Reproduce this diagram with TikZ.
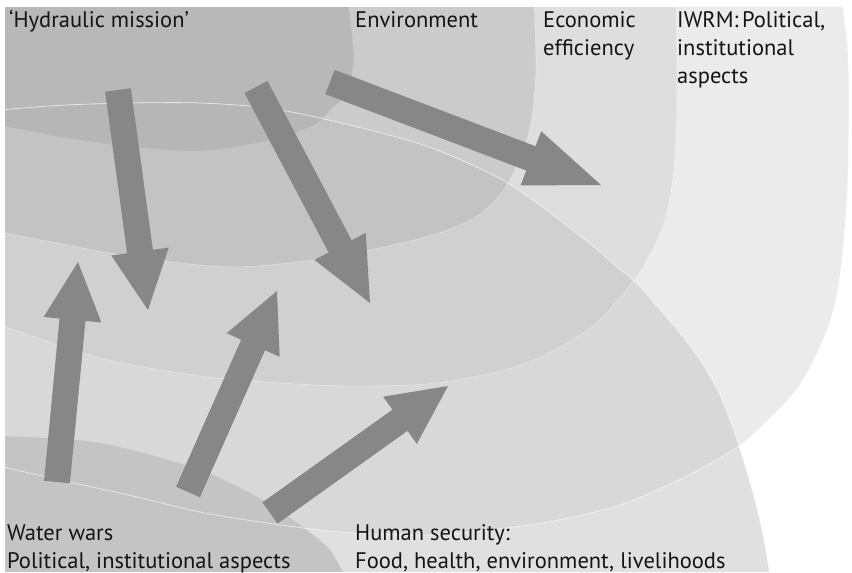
\documentclass[tikz,border=0pt]{standalone}
\usepackage{fontspec}
\setmainfont{PT Sans}
\usetikzlibrary{calc}

% fills of the nested fields and of their overlaps with the human-security field
\definecolor{cIwrm}{gray}{0.922}
\definecolor{cEcon}{gray}{0.871}
\definecolor{cEnv}{gray}{0.796}
\definecolor{cHyd}{gray}{0.722}
\definecolor{cHs}{gray}{0.878}
\definecolor{cIwrmHs}{gray}{0.847}
\definecolor{cEconHs}{gray}{0.816}
\definecolor{cEnvHs}{gray}{0.765}
\definecolor{cHydHs}{gray}{0.714}
\definecolor{cWw}{gray}{0.769}
\definecolor{cArrow}{gray}{0.529}

% field borders (pixel-like units, y pointing down)
\newcommand{\iwrmcurve}{plot[smooth] coordinates {(840,-10) (847,40) (849,100) (847,200) (839,283) (826,333) (800,385) (768,420) (739,446) (693,473) (626,503) (559,520) (490,530) (426,535) (340,532) (267,523) (200,512) (133,496) (60,480) (0,466) (-20,460)}}
\newcommand{\econcurve}{plot[smooth] coordinates {(676,-10) (677,100) (674,170) (665,220) (650,255) (629,287) (593,326) (543,356) (493,373) (426,384) (350,386) (280,383) (200,376) (100,358) (0,325) (-20,316)}}
\newcommand{\envcurve}{plot[smooth] coordinates {(534,-10) (536,67) (533,110) (526,143) (506,187) (476,217) (426,237) (333,257) (233,267) (133,257) (67,245) (0,232) (-20,226)}}
\newcommand{\hydcurve}{plot[smooth] coordinates {(347,-10) (353,47) (353,67) (347,93) (330,110) (317,123) (283,137) (233,147) (193,151) (133,147) (67,138) (0,125) (-20,120)}}
\newcommand{\hscurve}{plot[smooth] coordinates {(-20,113) (0,110) (67,105) (133,103) (200,103) (267,108) (333,121) (426,146) (506,182) (575,232) (615,265) (643,290) (693,350) (720,395) (739,446) (755,500) (765,545) (772,590)}}
\newcommand{\wwcurve}{plot[smooth] coordinates {(-20,434) (5,436) (100,443) (200,470) (263,500) (300,525) (330,550) (352,590)}}

% broad arrow: tail, tip, head length
\newcommand{\fatarrow}[3]{%
  \coordinate (hb) at ($(#2)!#3!(#1)$);
  \fill[arrowfill] ($(#1)!13pt!90:(#2)$) -- ($(hb)!13pt!-90:(#1)$) -- ($(hb)!29pt!-90:(#1)$) -- (#2)
     -- ($(hb)!29pt!90:(#1)$) -- ($(hb)!13pt!90:(#1)$) -- ($(#1)!13pt!-90:(#2)$) -- cycle;
}

\begin{document}
\begin{tikzpicture}[x=1pt,y=-1pt,
  arrowfill/.style={fill=cArrow},
  rim/.style={draw=white,line width=0.8pt,opacity=0.6},
  lbl/.style={font=\fontsize{22.5}{28}\selectfont,inner sep=0pt,anchor=base west,text=black!92}]
\useasboundingbox (0,0) rectangle (852,573);

\begin{scope}
  \clip (5,7) rectangle (852,571);
  % nested fields, outermost first
  \fill[cIwrm] \iwrmcurve -- (-20,-20) -- cycle;
  \fill[cEcon] \econcurve -- (-20,-20) -- cycle;
  \fill[cEnv] \envcurve -- (-20,-20) -- cycle;
  \fill[cHyd] \hydcurve -- (-20,-20) -- cycle;
  % human-security field and its overlaps
  \begin{scope}
    \clip \hscurve -- (-20,590) -- cycle;
    \fill[cHs] (-20,-20) rectangle (900,600);
    \fill[cIwrmHs] \iwrmcurve -- (-20,-20) -- cycle;
    \fill[cEconHs] \econcurve -- (-20,-20) -- cycle;
    \fill[cEnvHs] \envcurve -- (-20,-20) -- cycle;
    \fill[cHydHs] \hydcurve -- (-20,-20) -- cycle;
  \end{scope}
  % water-wars field
  \fill[cWw] \wwcurve -- (-20,590) -- cycle;
  % thin light borders
  \draw[rim] \hscurve;
  \draw[rim] \iwrmcurve;
  \draw[rim,opacity=0.35] \econcurve;
  \draw[rim,opacity=0.35] \envcurve;
\end{scope}

% arrow ends
\coordinate (a1s) at (118,90);   \coordinate (a1e) at (148,310);
\coordinate (a2s) at (256,87);   \coordinate (a2e) at (370,303);
\coordinate (a3s) at (330,82);   \coordinate (a3e) at (601,185);
\coordinate (a4s) at (57,482);   \coordinate (a4e) at (78,262);
\coordinate (a5s) at (188,492);  \coordinate (a5e) at (277,291);
\coordinate (a6s) at (270,513);  \coordinate (a6e) at (448,386);

\fatarrow{a1s}{a1e}{59pt}
\fatarrow{a2s}{a2e}{64pt}
\fatarrow{a3s}{a3e}{75pt}
\fatarrow{a4s}{a4e}{58pt}
\fatarrow{a5s}{a5e}{59pt}
\fatarrow{a6s}{a6e}{59pt}

% labels
\node[lbl] (hyd) at (9,27) {‘Hydraulic mission’};
\node[lbl] (env) at (355,27) {Environment};
\node[lbl] (econ) at (543,27) {\vtop{\hbox{Economic}\hbox{efficiency}}};
\node[lbl] (iwrm) at (677,27) {\vtop{\hbox{IWRM:\hspace{0.16em}Political,}\hbox{institutional}\hbox{aspects}}};
\node[lbl] (ww) at (7,540) {\vtop{\hbox{Water wars}\hbox{Political, institutional aspects}}};
\node[lbl] (hs) at (355,540) {\vtop{\hbox{Human security:}\hbox{Food, health, environment, livelihoods}}};
\end{tikzpicture}
\end{document}
